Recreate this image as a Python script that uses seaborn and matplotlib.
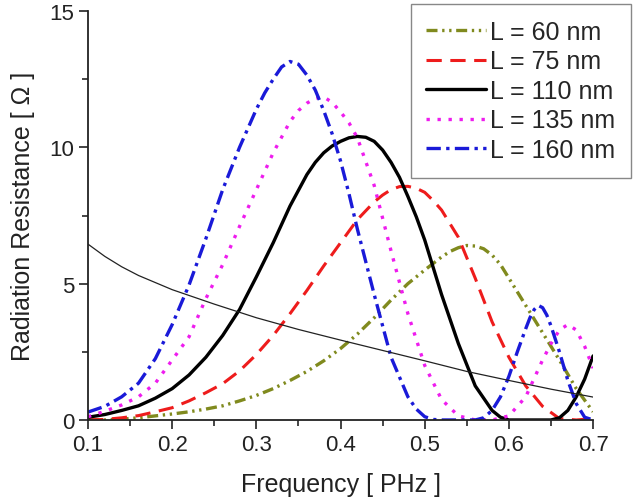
import matplotlib
matplotlib.use("Agg")
import matplotlib.pyplot as plt
import seaborn as sns

# radiation resistance vs frequency
f_60 = [0.10, 0.12, 0.14, 0.16, 0.18, 0.20, 0.22, 0.24, 0.26, 0.28, 0.30, 0.32, 0.34, 0.36, 0.38,
        0.40, 0.42, 0.44, 0.46, 0.48, 0.50, 0.52, 0.53, 0.54, 0.55, 0.56, 0.57, 0.58, 0.59, 0.60,
        0.62, 0.64, 0.66, 0.68, 0.70]
r_60 = [0.0, 0.0, 0.03, 0.08, 0.15, 0.22, 0.3, 0.4, 0.52, 0.7, 0.9, 1.15, 1.45, 1.78, 2.17,
        2.62, 3.15, 3.75, 4.4, 5.0, 5.5, 5.98, 6.18, 6.32, 6.4, 6.38, 6.28, 6.05, 5.7, 5.2,
        4.2, 3.2, 2.2, 1.15, 0.3]

f_75 = [0.10, 0.12, 0.14, 0.16, 0.18, 0.20, 0.22, 0.24, 0.26, 0.28, 0.30, 0.32, 0.34, 0.36, 0.38,
        0.40, 0.42, 0.44, 0.45, 0.46, 0.47, 0.48, 0.49, 0.50, 0.51, 0.52, 0.54, 0.56, 0.58, 0.60,
        0.62, 0.64, 0.66, 0.68, 0.70]
r_75 = [0.0, 0.02, 0.08, 0.16, 0.3, 0.45, 0.7, 1.0, 1.33, 1.8, 2.4, 3.1, 3.9, 4.75, 5.65,
        6.5, 7.35, 8.0, 8.25, 8.45, 8.56, 8.57, 8.5, 8.35, 8.05, 7.7, 6.7, 5.2, 3.6, 2.3,
        1.25, 0.5, 0.05, 0.0, 0.05]

f_110 = [0.10, 0.12, 0.14, 0.16, 0.18, 0.20, 0.22, 0.24, 0.26, 0.28, 0.30, 0.32, 0.34, 0.36, 0.37,
         0.38, 0.39, 0.40, 0.41, 0.42, 0.43, 0.44, 0.45, 0.46, 0.47, 0.48, 0.49, 0.50, 0.52, 0.54,
         0.56, 0.58, 0.59, 0.60, 0.62, 0.64, 0.65, 0.66, 0.67, 0.68, 0.69, 0.70]
r_110 = [0.1, 0.2, 0.35, 0.52, 0.8, 1.15, 1.65, 2.3, 3.1, 4.05, 5.25, 6.5, 7.85, 9.0, 9.45,
         9.8, 10.05, 10.22, 10.35, 10.4, 10.37, 10.22, 9.9, 9.45, 8.9, 8.2, 7.45, 6.6, 4.6, 2.8,
         1.25, 0.35, 0.1, 0.0, 0.0, 0.0, 0.0, 0.08, 0.35, 0.85, 1.5, 2.35]

f_135 = [0.10, 0.12, 0.14, 0.16, 0.18, 0.20, 0.22, 0.24, 0.26, 0.28, 0.30, 0.32, 0.34, 0.35, 0.36,
         0.37, 0.38, 0.39, 0.40, 0.41, 0.42, 0.44, 0.46, 0.48, 0.50, 0.52, 0.54, 0.56, 0.58, 0.60,
         0.62, 0.64, 0.65, 0.66, 0.67, 0.68, 0.69, 0.70]
r_135 = [0.12, 0.32, 0.55, 0.85, 1.35, 2.2, 3.05, 4.45, 5.7, 7.1, 8.45, 9.8, 10.95, 11.35, 11.62,
         11.8, 11.85, 11.65, 11.3, 10.9, 10.35, 8.6, 6.2, 3.9, 2.0, 0.75, 0.15, 0.0, 0.0, 0.15,
         0.85, 2.2, 2.8, 3.3, 3.5, 3.3, 2.7, 1.9]

f_160 = [0.10, 0.12, 0.14, 0.16, 0.18, 0.20, 0.22, 0.24, 0.26, 0.28, 0.30, 0.31, 0.32, 0.33, 0.34,
         0.35, 0.36, 0.37, 0.38, 0.39, 0.40, 0.41, 0.42, 0.44, 0.46, 0.48, 0.49, 0.50, 0.51, 0.52,
         0.54, 0.56, 0.57, 0.58, 0.59, 0.60, 0.61, 0.62, 0.625, 0.63, 0.635, 0.64, 0.645, 0.65, 0.66,
         0.67, 0.68, 0.69, 0.70]
r_160 = [0.29, 0.5, 0.85, 1.35, 2.25, 3.5, 4.95, 6.65, 8.45, 10.0, 11.4, 12.0, 12.5, 12.95, 13.15,
         13.05, 12.65, 12.1, 11.35, 10.5, 9.5, 8.3, 7.0, 4.6, 2.3, 0.85, 0.4, 0.12, 0.02, 0.0,
         0.0, 0.0, 0.08, 0.35, 0.85, 1.6, 2.5, 3.35, 3.75, 4.05, 4.2, 4.12, 3.85, 3.45, 2.5,
         1.45, 0.6, 0.1, 0.0]

# thin reference curve (not in legend)
f_ref = [0.10, 0.12, 0.14, 0.16, 0.20, 0.25, 0.30, 0.35, 0.40, 0.45, 0.50, 0.55, 0.60, 0.65, 0.70]
r_ref = [6.45, 6.0, 5.62, 5.3, 4.78, 4.25, 3.75, 3.32, 2.93, 2.55, 2.17, 1.78, 1.45, 1.13, 0.84]

labels = ["L = 60 nm", "L = 75 nm", "L = 110 nm", "L = 135 nm", "L = 160 nm"]

sns.set_style("ticks")
plt.rcParams["font.family"] = ["Liberation Sans", "DejaVu Sans"]

fig = plt.figure(figsize=(6.35, 5.02), dpi=100)
ax = fig.add_axes([0.1386, 0.1614, 0.7954, 0.8146])

sns.lineplot(x=f_60, y=r_60, color="#808a1e", lw=2.4, linestyle=(0, (3.3, 1.4, 0.7, 1.4, 0.7, 1.4)),
             label=labels[0], ax=ax)
sns.lineplot(x=f_75, y=r_75, color="#ee1c1c", lw=2.2, linestyle=(0, (5, 2.8)), label=labels[1], ax=ax)
sns.lineplot(x=f_110, y=r_110, color="black", lw=2.4, label=labels[2], ax=ax)
sns.lineplot(x=f_135, y=r_135, color="#ee1cee", lw=2.4, linestyle=(0, (1, 2.3)), label=labels[3], ax=ax)
sns.lineplot(x=f_160, y=r_160, color="#1a1ad8", lw=2.4, linestyle=(0, (4.3, 1.6, 1, 1.6)),
             label=labels[4], ax=ax)
sns.lineplot(x=f_ref, y=r_ref, color="#222222", lw=0.9, ax=ax)

ax.set_xlim(0.1, 0.7)
ax.set_ylim(0, 15)
ax.set_xticks([0.1, 0.2, 0.3, 0.4, 0.5, 0.6, 0.7])
ax.set_xticklabels(["0.1", "0.2", "0.3", "0.4", "0.5", "0.6", "0.7"])
ax.set_yticks([0, 5, 10, 15])
ax.set_xticks([0.15, 0.25, 0.35, 0.45, 0.55, 0.65], minor=True)
ax.set_yticks([2.5, 7.5, 12.5], minor=True)
ax.tick_params(which="major", direction="out", length=6.5, width=1.2, labelsize=16, colors="#222222")
ax.tick_params(which="minor", direction="out", length=4, width=1.2)
for s in ["top", "right"]:
    ax.spines[s].set_visible(False)
for s in ["left", "bottom"]:
    ax.spines[s].set_linewidth(1.3)
    ax.spines[s].set_color("#222222")

ax.set_xlabel("Frequency [ PHz ]", fontsize=18, color="#222222", labelpad=12)
ax.set_ylabel("Radiation Resistance [ Ω ]", fontsize=18, color="#222222", labelpad=10)

leg = ax.legend(loc="upper right", bbox_to_anchor=(631 / 635, 1 - 5 / 502), bbox_transform=fig.transFigure,
                borderaxespad=0, fontsize=18, handlelength=2.4, handletextpad=0.15, labelspacing=0.22,
                borderpad=0.63, fancybox=False, framealpha=1, edgecolor="#888888")
leg.get_frame().set_linewidth(1.0)

fig.savefig("out.png", dpi=100)
